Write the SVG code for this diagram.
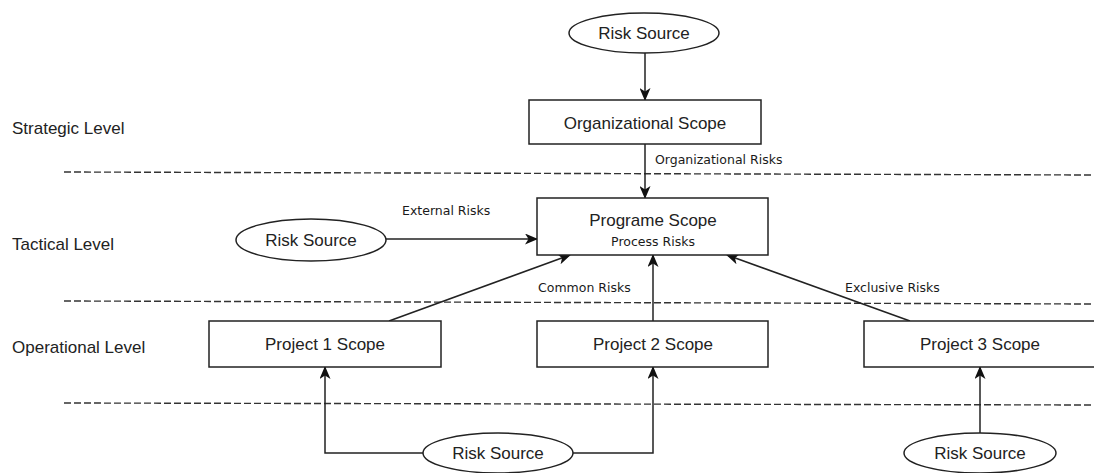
<svg xmlns="http://www.w3.org/2000/svg" width="1094" height="473" viewBox="0 0 1094 473">
<defs>
<marker id="arr" viewBox="0 0 13 11" refX="12" refY="5.5" markerWidth="13" markerHeight="11" markerUnits="userSpaceOnUse" orient="auto">
<path d="M0,0 L13,5.5 L0,11 L3.5,5.5 Z" fill="#111"/>
</marker>
<style>
.box{fill:#fff;stroke:#222;stroke-width:1.5}
.t{font-family:"Liberation Sans",Arial,sans-serif;font-size:17px;fill:#222;text-anchor:middle}
.lvl{font-family:"Liberation Sans",Arial,sans-serif;font-size:17px;fill:#222}
.lb{font-family:"DejaVu Sans",Verdana,sans-serif;font-size:12.5px;fill:#1a1a1a}
.c{fill:none;stroke:#222;stroke-width:1.5}
.d{fill:none;stroke:#333;stroke-width:1.4;stroke-dasharray:7 3}
</style>
</defs>
<rect width="1094" height="473" fill="#fff"/>
<g id="levels">
<text class="lvl" x="12" y="134">Strategic Level</text>
<text class="lvl" x="12" y="250">Tactical Level</text>
<text class="lvl" x="12" y="353">Operational Level</text>
<line class="d" x1="64" y1="172" x2="1094" y2="175"/>
<line class="d" x1="64" y1="301" x2="1094" y2="304"/>
<line class="d" x1="64" y1="403" x2="1094" y2="405"/>
</g>
<g id="connectors">
<line class="c" x1="645" y1="53" x2="645" y2="100" marker-end="url(#arr)"/>
<line class="c" x1="645" y1="144" x2="645" y2="198" marker-end="url(#arr)"/>
<line class="c" x1="386" y1="239" x2="537" y2="239" marker-end="url(#arr)"/>
<line class="c" x1="389" y1="321" x2="570" y2="255" marker-end="url(#arr)"/>
<line class="c" x1="653" y1="321" x2="653" y2="255" marker-end="url(#arr)"/>
<line class="c" x1="910" y1="321" x2="727" y2="255" marker-end="url(#arr)"/>
<polyline class="c" points="423,453 325,453 325,367" marker-end="url(#arr)"/>
<polyline class="c" points="573,453 653,453 653,367" marker-end="url(#arr)"/>
<line class="c" x1="980" y1="433" x2="980" y2="367" marker-end="url(#arr)"/>
<text class="lb" x="655" y="164">Organizational Risks</text>
<text class="lb" x="402" y="215">External Risks</text>
<text class="lb" x="538" y="292">Common Risks</text>
<text class="lb" x="845" y="292">Exclusive Risks</text>
</g>
<g id="risk-source-top">
<ellipse class="box" cx="644" cy="33" rx="75" ry="20"/>
<text class="t" x="644" y="39">Risk Source</text>
</g>
<g id="org-scope">
<rect class="box" x="529" y="100" width="232" height="44"/>
<text class="t" x="645" y="129">Organizational Scope</text>
</g>
<g id="programe-scope">
<rect class="box" x="537" y="198" width="231" height="57"/>
<text class="t" x="653" y="226">Programe Scope</text>
<text class="lb" x="653" y="246" style="text-anchor:middle">Process Risks</text>
</g>
<g id="risk-source-tactical">
<ellipse class="box" cx="311" cy="240" rx="75" ry="21"/>
<text class="t" x="311" y="246">Risk Source</text>
</g>
<g id="project1">
<rect class="box" x="209" y="321" width="232" height="46"/>
<text class="t" x="325" y="350">Project 1 Scope</text>
</g>
<g id="project2">
<rect class="box" x="537" y="321" width="231" height="46"/>
<text class="t" x="653" y="350">Project 2 Scope</text>
</g>
<g id="project3">
<rect class="box" x="864" y="321" width="232" height="46"/>
<text class="t" x="980" y="350">Project 3 Scope</text>
</g>
<g id="risk-source-bottom">
<ellipse class="box" cx="498" cy="453" rx="75" ry="20"/>
<text class="t" x="498" y="459">Risk Source</text>
</g>
<g id="risk-source-right">
<ellipse class="box" cx="980" cy="453" rx="76" ry="20"/>
<text class="t" x="980" y="459">Risk Source</text>
</g>
</svg>
